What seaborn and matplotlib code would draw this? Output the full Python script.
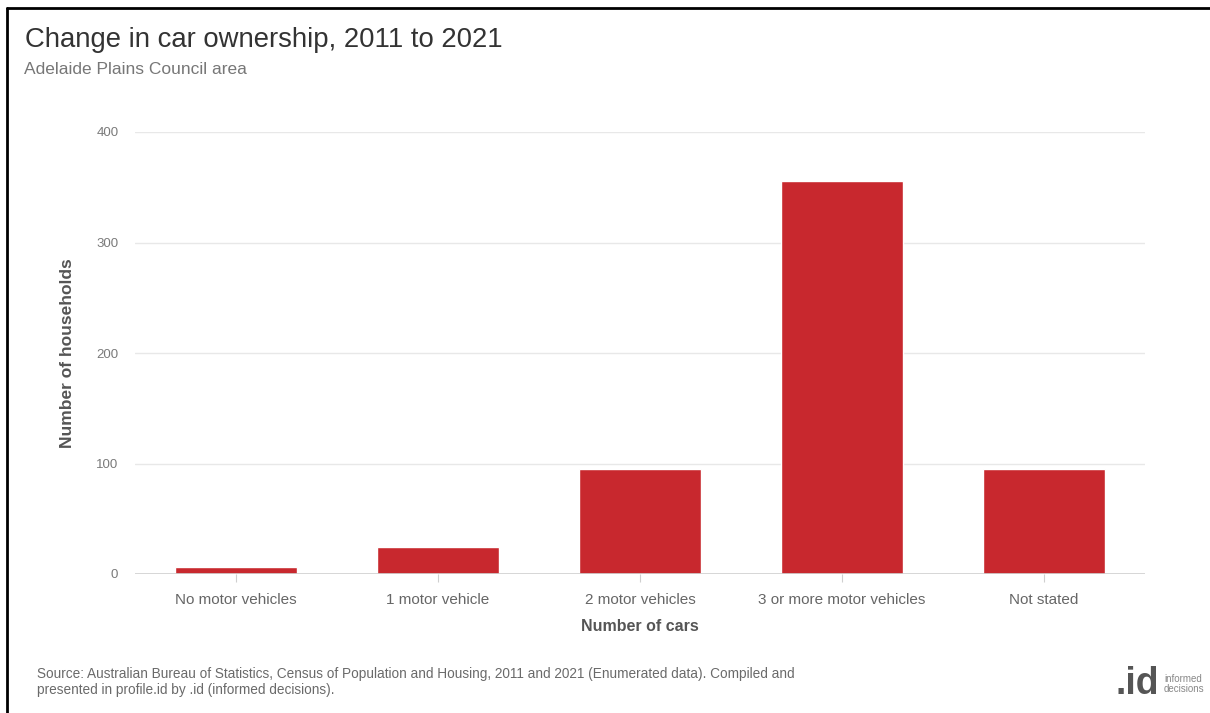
import matplotlib
matplotlib.use("Agg")
import matplotlib.pyplot as plt
import seaborn as sns
import pandas as pd
from matplotlib.lines import Line2D

# Change in number of households by car ownership, 2011 to 2021
categories = ["No motor vehicles", "1 motor vehicle", "2 motor vehicles",
              "3 or more motor vehicles", "Not stated"]
change = [6, 24, 95, 356, 95]
y_ticks = [0, 100, 200, 300, 400]

title = "Change in car ownership, 2011 to 2021"
subtitle = "Adelaide Plains Council area"
source = ("Source: Australian Bureau of Statistics, Census of Population and Housing, 2011 and 2021 "
          "(Enumerated data). Compiled and\npresented in profile.id by .id (informed decisions).")

df = pd.DataFrame({"category": categories, "change": change})

sns.set_theme(style="white")
plt.rcParams["font.family"] = ["Liberation Sans", "DejaVu Sans"]

fig = plt.figure(figsize=(12.1, 7.13), dpi=100)
ax = fig.add_axes([135 / 1210, 1 - 574 / 713, 1010 / 1210, 442 / 713])

sns.barplot(data=df, x="category", y="change", color="#c8282e", width=0.6,
            saturation=1, ax=ax, zorder=3)

ax.set_xlim(-0.5, len(categories) - 0.5)
ax.set_ylim(0, 400)
ax.set_yticks(y_ticks)
ax.set_yticklabels([str(t) for t in y_ticks])

for t in y_ticks[1:]:
    ax.axhline(t, color="#e8e8e8", lw=1.0, zorder=1)
ax.axhline(0, color="#cfcfcf", lw=1.2, zorder=4)

for s in ax.spines.values():
    s.set_visible(False)

ax.tick_params(axis="y", length=0, pad=12, labelsize=9.5, labelcolor="#7a7a7a")
ax.tick_params(axis="x", length=6, width=0.8, color="#cfcfcf", pad=8,
               labelsize=11, labelcolor="#666666", bottom=True)

ax.set_xlabel("Number of cars", fontsize=11.5, fontweight="bold", color="#555555", labelpad=8)
ax.set_ylabel("Number of households", fontsize=12.5, fontweight="bold", color="#555555", labelpad=15)

fig.text(25 / 1210, 1 - 40 / 713, title, fontsize=19.8, color="#333333", va="center", ha="left")
fig.text(24 / 1210, 1 - 70 / 713, subtitle, fontsize=12.5, color="#777777", va="center", ha="left")
fig.text(37 / 1210, 1 - 682 / 713, source, fontsize=9.8, color="#6a6a6a", va="center", ha="left",
         linespacing=1.2)

# brand mark in the footer
fig.text(1159 / 1210, 1 - 684 / 713, ".id", fontsize=27, fontweight="bold", color="#555555",
         va="center", ha="right")
fig.text(1164 / 1210, 1 - 684 / 713, "informed\ndecisions", fontsize=7, color="#888888",
         va="center", ha="left", linespacing=1.1)

# frame lines along the top and left edges
fig.add_artist(Line2D([7 / 1210, 1], [1 - 8 / 713, 1 - 8 / 713], color="black", lw=2,
                      transform=fig.transFigure))
fig.add_artist(Line2D([7 / 1210, 7 / 1210], [0, 1 - 8 / 713], color="black", lw=2,
                      transform=fig.transFigure))

fig.savefig("out.png", dpi=100, facecolor="white")
